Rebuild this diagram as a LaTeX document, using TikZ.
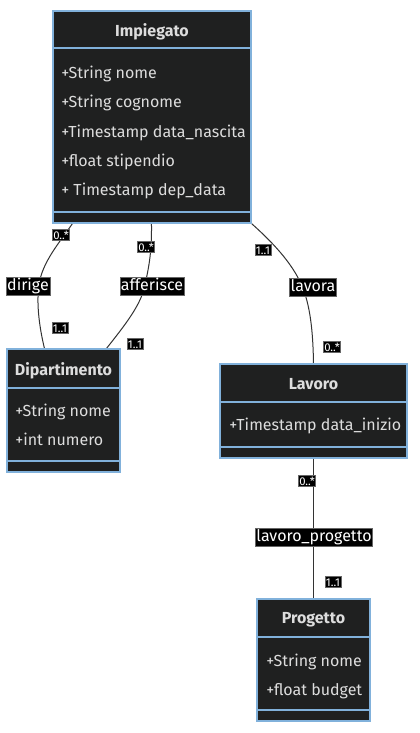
\documentclass[tikz,border=0pt]{standalone}
\usepackage{fontspec}
\setmainfont{Fira Sans}
\usetikzlibrary{fit,calc,backgrounds}
\definecolor{clsfill}{HTML}{1F2020}
\definecolor{clsborder}{HTML}{81B1DB}
\definecolor{clstext}{HTML}{DDDDDD}
\definecolor{edgecol}{HTML}{333333}
\definecolor{lblborder}{HTML}{666666}
\begin{document}
\begin{tikzpicture}[x=0.75pt,y=-0.75pt,
 cls/.style={draw=clsborder, fill=clsfill, line width=0.8pt, inner sep=0pt},
 divider/.style={draw=clsborder, line width=0.8pt},
 title/.style={text=clstext, font=\fontsize{12}{14}\selectfont\bfseries, inner sep=0pt},
 attr/.style={text=clstext, font=\fontsize{12}{14}\selectfont, anchor=west, inner sep=0pt, text height=9pt, text depth=3pt},
 edge/.style={draw=edgecol, line width=0.75pt},
 elabel/.style={fill=black, text=white, draw=lblborder, line width=0.4pt, font=\fontsize{12}{14}\selectfont, inner sep=0.8pt, text height=9pt, text depth=3pt},
 card/.style={fill=black, text=white, draw=lblborder, line width=0.4pt, font=\fontsize{8.5}{9}\selectfont, inner sep=0.6pt, text height=6.4pt, text depth=0.4pt}]
\useasboundingbox (0,0) rectangle (419,733);

% ---- classes ----
\node[cls, fit={(53,11) (251,223)}] (imp) {};
\draw[divider] (53,48) -- (251,48);
\draw[divider] (53,212) -- (251,212);
\node[title] (impt) at (152,32) {Impiegato};
\node[attr] (imp1) at (61,74) {+String nome};
\node[attr] (imp2) at (61,103) {+String cognome};
\node[attr] (imp3) at (61,133) {+Timestamp data\_nascita};
\node[attr] (imp4) at (61,162) {+float stipendio};
\node[attr] (imp5) at (61,191) {+ Timestamp dep\_data};

\node[cls, fit={(7,349) (120,472)}] (dip) {};
\draw[divider] (7,388) -- (120,388);
\draw[divider] (7,461) -- (120,461);
\node[title] (dipt) at (63.5,371) {Dipartimento};
\node[attr] (dip1) at (15,412) {+String nome};
\node[attr] (dip2) at (15,441) {+int numero};

\node[cls, fit={(220,364) (407,458)}] (lav) {};
\draw[divider] (220,402) -- (407,402);
\draw[divider] (220,447) -- (407,447);
\node[title] (lavt) at (313.5,384) {Lavoro};
\node[attr] (lav1) at (229,426) {+Timestamp data\_inizio};

\node[cls, fit={(257,599) (370,721)}] (prog) {};
\draw[divider] (257,637) -- (370,637);
\draw[divider] (257,710) -- (370,710);
\node[title] (progt) at (313.5,620) {Progetto};
\node[attr] (prog1) at (266,662) {+String nome};
\node[attr] (prog2) at (266,691) {+float budget};

% ---- edge labels ----
\node[elabel] (ldirige) at (28,286) {dirige};
\node[elabel] (lafferisce) at (152,286) {afferisce};
\node[elabel] (llavora) at (313,287) {lavora};
\node[elabel] (llp) at (314,537) {lavoro\_progetto};

\coordinate (pdirige) at (39,285);
\coordinate (pafferisce) at (145,285);
\coordinate (plavora) at (302,286);

\node[card] (c1) at (61,235) {0..*};
\node[card] (c2) at (60,328) {1..1};
\node[card] (c3) at (146,247) {0..*};
\node[card] (c4) at (135,344) {1..1};
\node[card] (c5) at (263,250) {1..1};
\node[card] (c6) at (332,347) {0..*};
\node[card] (c7) at (307,481) {0..*};
\node[card] (c8) at (333,582) {1..1};

% ---- connectors ----
\begin{scope}[on background layer]
\fill[white] (0,0) rectangle (419,733);
\draw[edge] ($(imp.south west)+(20,0)$) .. controls (60,242) and (42,262) .. (pdirige)
  .. controls (36,305) and (40,330) .. ($(dip.north west)+(38,0)$);
\draw[edge] ($(imp.south west)+(99,0)$) .. controls (152,255) and (148,270) .. (pafferisce)
  .. controls (141,305) and (125,325) .. ($(dip.north west)+(100,0)$);
\draw[edge] (imp.south east) .. controls (270,240) and (292,262) .. (plavora)
  .. controls (310,305) and (313,330) .. (lav.north);
\draw[edge] (lav.south) -- (prog.north);
\end{scope}
\end{tikzpicture}
\end{document}
